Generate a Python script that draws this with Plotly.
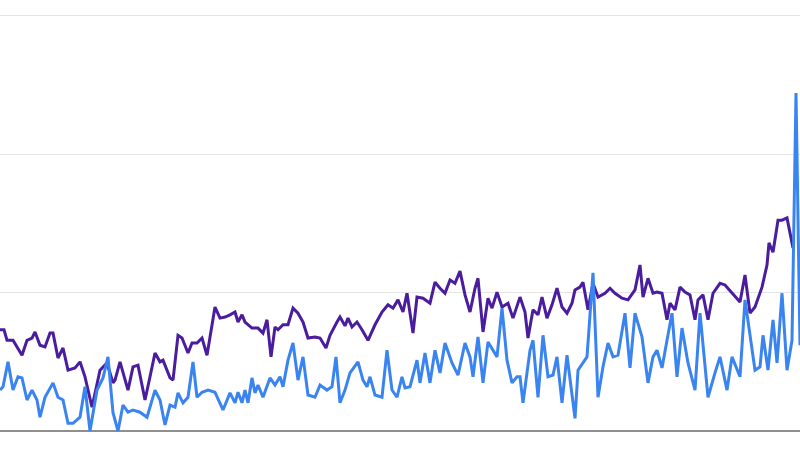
import plotly.graph_objects as go

# Time index (weeks, arbitrary units) and interest values
t_purple = [0, 4, 7, 13, 22, 27, 32, 35, 40, 45, 50, 53, 58, 63, 68, 75, 80, 85, 92, 100,
            107, 113, 115, 120, 128, 133, 138, 145, 150, 155, 160, 163, 170, 173, 178, 182, 188, 192, 197, 202,
            207, 215, 220, 225, 230, 235, 238, 242, 245, 252, 258, 263, 267, 271, 275, 278, 283, 288, 293, 298,
            303, 308, 315, 320, 326, 330, 337, 340, 345, 348, 352, 357, 362, 368, 375, 382, 388, 393, 398, 403,
            407, 413, 417, 423, 430, 435, 440, 445, 450, 455, 460, 465, 470, 475, 478, 483, 488, 492, 497, 502,
            508, 513, 520, 525, 528, 533, 538, 542, 547, 552, 557, 562, 567, 572, 575, 580, 583, 588, 593, 598,
            605, 610, 615, 622, 628, 635, 640, 643, 648, 653, 657, 662, 667, 670, 675, 680, 685, 690, 695, 698,
            703, 708, 713, 720, 725, 732, 740, 745, 750, 755, 762, 767, 769, 773, 778, 782, 787, 790, 793]
v_purple = [18.3, 18.3, 16.4, 16.4, 13.7, 16.4, 16.8, 17.9, 15.5, 15.2, 17.7, 17.7, 13.2, 15.0, 11.0, 11.4, 12.5, 9.8, 4.3, 11.0,
            12.3, 8.7, 9.2, 12.5, 7.4, 11.6, 11.9, 5.6, 9.8, 14.1, 12.5, 12.8, 9.6, 9.2, 17.3, 16.8, 14.1, 15.9, 15.9, 16.8,
            13.7, 22.4, 20.4, 20.6, 21.0, 21.5, 19.7, 21.0, 19.7, 18.6, 18.6, 17.7, 20.1, 13.4, 18.8, 18.3, 19.2, 19.2, 22.2, 21.3,
            19.7, 16.8, 17.0, 16.8, 15.0, 17.3, 19.7, 20.6, 19.0, 20.4, 18.8, 19.7, 18.3, 16.4, 19.2, 21.5, 22.8, 22.2, 23.7, 21.5,
            24.9, 17.7, 24.2, 24.0, 23.1, 26.9, 25.8, 24.9, 27.3, 26.7, 28.9, 24.6, 21.5, 25.8, 27.6, 17.9, 24.0, 22.2, 25.1, 22.4,
            23.1, 20.4, 24.2, 21.5, 16.8, 21.9, 21.0, 24.2, 20.4, 22.8, 25.8, 22.4, 21.3, 23.1, 25.5, 26.0, 26.9, 21.9, 26.7, 24.2,
            24.9, 25.8, 24.9, 24.0, 23.7, 25.5, 30.0, 24.2, 27.6, 24.9, 25.1, 24.9, 20.1, 23.1, 21.9, 26.0, 25.1, 24.6, 20.1, 23.7,
            24.6, 20.1, 24.9, 26.7, 26.4, 24.9, 23.3, 28.2, 21.3, 22.4, 26.0, 30.0, 34.0, 32.3, 38.1, 38.1, 38.5, 35.8, 33.1]

t_blue = [0, 3, 8, 13, 18, 22, 27, 32, 37, 40, 45, 53, 58, 63, 68, 73, 80, 85, 90, 97,
          103, 108, 113, 118, 123, 128, 133, 140, 147, 155, 160, 165, 170, 175, 178, 183, 188, 193, 197, 202,
          208, 215, 223, 230, 235, 238, 242, 245, 248, 252, 255, 258, 263, 270, 275, 280, 283, 288, 293, 298,
          303, 308, 315, 320, 327, 332, 336, 340, 345, 350, 358, 363, 367, 370, 375, 382, 387, 392, 397, 402,
          405, 410, 417, 420, 425, 430, 435, 440, 445, 452, 458, 465, 470, 473, 478, 483, 488, 493, 497, 502,
          507, 512, 517, 520, 523, 530, 533, 538, 543, 548, 553, 557, 562, 567, 575, 578, 587, 593, 598, 603,
          608, 613, 618, 625, 630, 635, 642, 648, 653, 657, 662, 667, 672, 677, 682, 688, 695, 700, 708, 715,
          720, 727, 732, 740, 745, 755, 760, 763, 768, 773, 777, 782, 787, 792, 796, 800]
v_blue = [7.4, 8.0, 12.5, 7.4, 9.8, 9.6, 5.6, 7.4, 5.6, 2.5, 6.1, 8.7, 6.1, 5.6, 1.4, 1.4, 2.5, 8.0, 0.0, 7.4,
          9.6, 13.4, 3.3, 0.0, 4.7, 3.4, 3.8, 3.4, 2.5, 7.4, 5.6, 1.1, 4.7, 4.3, 6.9, 5.1, 6.1, 12.5, 6.1, 7.0,
          7.4, 7.0, 3.8, 6.9, 5.1, 7.0, 5.1, 7.4, 5.1, 9.6, 6.9, 8.3, 6.1, 9.6, 8.3, 9.8, 8.0, 12.8, 15.9, 9.2,
          13.4, 6.5, 6.1, 8.3, 7.4, 8.0, 13.4, 5.1, 7.4, 10.5, 12.5, 9.2, 8.0, 9.8, 6.5, 6.1, 14.6, 7.4, 6.1, 9.8,
          7.8, 8.0, 12.8, 8.7, 14.1, 8.7, 14.6, 10.5, 15.9, 12.3, 10.1, 15.9, 13.4, 9.8, 17.0, 8.7, 16.1, 14.6, 13.4, 22.2,
          12.8, 8.7, 9.8, 9.8, 5.1, 14.6, 16.4, 6.1, 17.3, 9.8, 10.1, 13.4, 5.1, 13.7, 2.3, 11.0, 13.4, 28.6, 6.1, 11.6,
          15.9, 13.4, 13.7, 21.3, 11.4, 21.3, 17.0, 8.7, 13.4, 14.6, 11.4, 16.4, 21.3, 9.8, 18.6, 12.3, 7.4, 21.3, 6.1, 10.5,
          13.4, 7.4, 13.4, 9.8, 23.7, 11.0, 11.6, 17.3, 11.0, 20.1, 12.3, 24.9, 11.0, 16.4, 61.1, 15.5]

grid_vals = [0, 25, 50, 75]

fig = go.Figure()
fig.add_trace(go.Scatter(x=t_purple, y=v_purple, mode="lines",
                         line=dict(color="#4a1c9e", width=3), hoverinfo="skip", showlegend=False))
fig.add_trace(go.Scatter(x=t_blue, y=v_blue, mode="lines",
                         line=dict(color="#3a84f2", width=3), hoverinfo="skip", showlegend=False))

fig.update_layout(
    width=800, height=450, autosize=False,
    margin=dict(l=0, r=0, t=0, b=0),
    paper_bgcolor="white", plot_bgcolor="white",
    xaxis=dict(range=[0, 800], showgrid=False, zeroline=False, showticklabels=False,
               ticks="", showline=False, fixedrange=True),
    yaxis=dict(range=[-3.43, 77.89], tickmode="array", tickvals=grid_vals,
               showgrid=True, gridcolor="#e4e4e4", gridwidth=1.2,
               zeroline=True, zerolinecolor="#8f8f8f", zerolinewidth=1.5,
               showticklabels=False, ticks="", showline=False, fixedrange=True),
)

post = ("document.documentElement.style.margin='0';"
        "document.body.style.margin='0';document.body.style.padding='0';"
        "document.body.style.overflow='hidden';"
        "var gd=document.getElementById('{plot_id}');"
        "Plotly.relayout(gd,{width:800,height:450});")

fig.write_html("out.html", config={"displayModeBar": False, "responsive": False},
               default_width="800px", default_height="450px", post_script=post)
